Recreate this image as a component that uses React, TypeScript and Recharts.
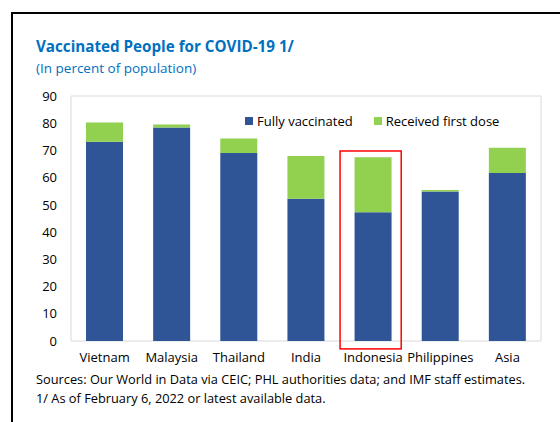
import React from 'react';
import { BarChart, Bar, XAxis, YAxis, Legend, ReferenceArea } from 'recharts';

const categories = ['Vietnam', 'Malaysia', 'Thailand', 'India', 'Indonesia', 'Philippines', 'Asia'];
const fullyVaccinated = [73.2, 78.4, 69.1, 52.3, 47.3, 54.9, 61.7];
const firstDoseOnly = [7.1, 1.1, 5.3, 15.7, 20.2, 0.6, 9.3];
const yTicks = [0, 10, 20, 30, 40, 50, 60, 70, 80, 90];
const highlighted = 'Indonesia';

const BLUE = '#2f5597';
const GREEN = '#92d050';
const TITLE_BLUE = '#0070c0';
const FONT = '"Open Sans", sans-serif';

const data = categories.map((name, i) => ({
  name,
  fully: fullyVaccinated[i],
  first: firstDoseOnly[i],
}));

const LegendContent = (props: any) => {
  const payload = props.payload || [];
  return (
    <div style={{ display: 'flex', fontFamily: FONT, fontSize: 13, color: '#000', whiteSpace: 'nowrap' }}>
      {payload.map((p: any, i: number) => (
        <div key={i} style={{ display: 'flex', alignItems: 'center', marginRight: 21 }}>
          <span style={{ display: 'inline-block', width: 8, height: 8, background: p.color, marginRight: 4 }} />
          <span>{p.value}</span>
        </div>
      ))}
    </div>
  );
};

const RedBox = (p: any) => (
  <rect x={p.x + 0.5} y={p.y} width={p.width - 6} height={p.height} fill="none" stroke="#ff0000" strokeWidth={1.5} />
);

export default function App() {
  return (
    <div style={{ position: 'absolute', left: 0, top: 0, width: 560, height: 422, background: '#fff', overflow: 'hidden', fontFamily: FONT }}>
      <div style={{ position: 'absolute', left: 11, top: 12, width: 560, height: 422, borderLeft: '2.5px solid #000', borderTop: '2.5px solid #000' }} />
      <div style={{ position: 'absolute', left: 36, top: 36, fontSize: 15.2, fontWeight: 700, color: TITLE_BLUE, whiteSpace: 'nowrap' }}>
        Vaccinated People for COVID-19 1/
      </div>
      <div style={{ position: 'absolute', left: 36, top: 59, fontSize: 13.5, color: TITLE_BLUE, whiteSpace: 'nowrap' }}>
        (In percent of population)
      </div>
      <div style={{ position: 'absolute', left: 0, top: 0 }}>
        <BarChart width={560} height={422} data={data} margin={{ top: 96, right: 19, bottom: 51, left: 21 }}>
          <ReferenceArea x1="Vietnam" x2="Asia" y1={0} y2={90} fill="none" stroke="#d9d9d9" strokeWidth={1} ifOverflow="visible" />
          <XAxis dataKey="name" height={30} axisLine={false} tickLine={false} tickMargin={6} tick={{ fontSize: 13, fill: '#000', fontFamily: FONT }} interval={0} />
          <YAxis width={50} domain={[0, 90]} ticks={yTicks} axisLine={false} tickLine={false} tickMargin={8} tick={{ fontSize: 13, fill: '#000', fontFamily: FONT }} />
          <Legend content={<LegendContent />} wrapperStyle={{ position: 'absolute', top: 112, left: 245, width: 'auto', height: 0, overflow: 'visible' }} />
          <Bar dataKey="fully" name="Fully vaccinated" stackId="a" fill={BLUE} barSize={37} isAnimationActive={false} />
          <Bar dataKey="first" name="Received first dose" stackId="a" fill={GREEN} barSize={37} isAnimationActive={false} />
          <ReferenceArea x1={highlighted} x2={highlighted} y1={-2.9} y2={69.8} ifOverflow="visible" shape={RedBox} />
        </BarChart>
      </div>
      <div style={{ position: 'absolute', left: 36, top: 370, fontSize: 12.8, color: '#000', whiteSpace: 'nowrap', lineHeight: '19px' }}>
        <div>Sources: Our World in Data via CEIC; PHL authorities data; and IMF staff estimates.</div>
        <div>1/ As of February 6, 2022 or latest available data.</div>
      </div>
    </div>
  );
}
